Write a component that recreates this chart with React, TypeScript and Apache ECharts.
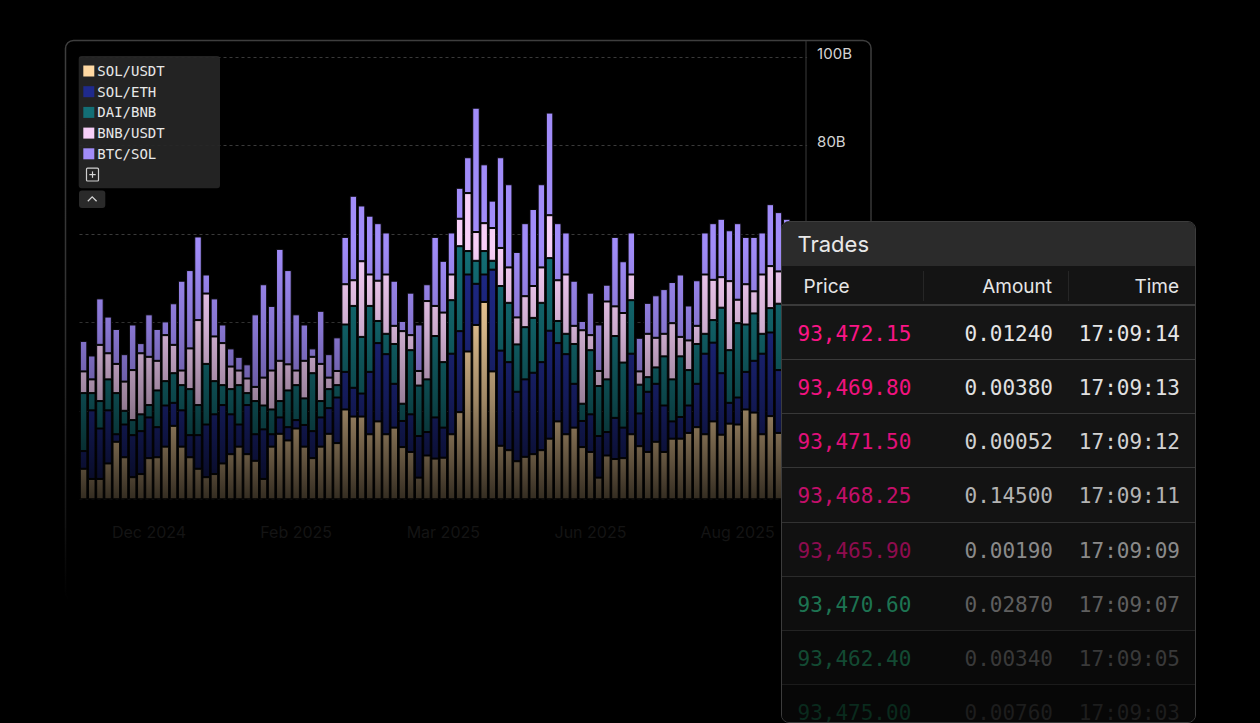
import React, { useEffect, useRef } from "react";
import * as echarts from "echarts";

// Stacked daily volume by pair (billions)
const seriesNames = ["SOL/USDT", "SOL/ETH", "DAI/BNB", "BNB/USDT", "BTC/SOL"];
const seriesColors = ["#ffd9a3", "#1f2a8c", "#136f76", "#f7cff8", "#a18cf9"];

const solUsdt = [
  6.9, 4.6, 4.6, 8.1, 13.0, 9.5, 5.0, 5.7, 9.3, 9.5,
  11.9, 16.6, 11.9, 9.5, 6.9, 5.0, 5.7, 8.1, 10.2, 11.9,
  10.2, 8.7, 4.6, 11.9, 14.8, 13.3, 16.0, 11.9, 9.3, 11.9,
  14.8, 12.7, 20.3, 18.7, 18.7, 14.7, 17.6, 14.7, 16.2, 11.8,
  10.7, 4.9, 9.9, 9.2, 9.4, 14.7, 19.7, 33.4, 39.4, 44.6,
  28.9, 12.1, 11.1, 8.6, 9.6, 10.2, 11.1, 13.7, 17.6, 14.7,
  16.2, 11.8, 10.7, 4.9, 9.9, 9.1, 9.3, 14.7, 12.0, 10.7,
  13.0, 10.7, 13.7, 13.7, 15.0, 16.3, 14.7, 17.6, 14.6, 17.1,
  16.9, 20.3, 19.6, 14.7, 18.8, 15.0, 14.6, 17.1, 16.9,
];
const solEth = [
  4.0, 15.5, 11.4, 12.0, 1.7, 7.4, 9.5, 9.7, 9.2, 6.8,
  9.3, 5.2, 8.2, 5.0, 7.6, 11.9, 13.5, 13.2, 9.0, 5.0,
  11.1, 6.0, 11.2, 2.8, 3.7, 3.0, 1.9, 4.9, 6.1, 6.6,
  5.8, 10.3, 8.5, 6.5, 5.2, 14.1, 17.7, 18.1, 9.9, 5.9,
  8.5, 9.4, 5.3, 9.3, 6.8, 18.2, 18.3, 17.4, 9.3, 6.2,
  23.0, 21.5, 19.9, 15.7, 17.5, 18.4, 19.9, 24.4, 17.7, 18.1,
  9.9, 5.9, 8.5, 9.4, 5.3, 9.3, 6.9, 18.2, 7.4, 13.6,
  13.1, 10.5, 3.9, 4.9, 6.2, 9.8, 18.2, 17.8, 13.9, 4.7,
  6.1, 8.5, 11.7, 18.2, 18.9, 14.2, 13.9, 4.7, 6.1,
];
const daiBnb = [
  13.1, 3.9, 6.2, 7.0, 9.3, 3.1, 3.4, 3.8, 2.8, 8.3,
  5.5, 6.7, 5.7, 10.4, 6.8, 13.7, 7.5, 4.5, 5.7, 8.9,
  2.7, 7.5, 5.4, 5.6, 3.7, 8.3, 7.9, 6.0, 13.1, 3.7,
  4.3, 2.8, 10.7, 18.5, 12.8, 14.9, 5.0, 4.6, 9.0, 3.9,
  14.5, 11.4, 11.9, 18.4, 14.8, 12.1, 19.2, 5.3, 5.2, 5.3,
  2.0, 14.6, 13.4, 10.7, 11.8, 12.4, 13.4, 16.4, 5.0, 4.6,
  9.0, 3.9, 14.5, 11.3, 11.9, 18.5, 14.7, 12.1, 6.5, 3.3,
  3.7, 11.1, 9.5, 13.7, 8.0, 9.0, 4.5, 5.1, 14.8, 11.9,
  16.8, 10.7, 10.7, 4.5, 5.5, 15.0, 14.8, 11.9, 16.8,
];
const bnbUsdt = [
  4.9, 3.1, 12.7, 5.9, 6.6, 6.6, 11.3, 13.8, 10.9, 6.7,
  10.4, 6.4, 3.3, 9.2, 19.2, 15.9, 10.1, 9.5, 5.1, 3.3,
  3.3, 3.2, 6.3, 8.8, 9.1, 5.9, 3.3, 8.5, 3.7, 8.4,
  2.6, 3.2, 9.1, 5.8, 17.1, 7.1, 9.1, 13.4, 4.1, 16.4,
  3.4, 3.3, 17.7, 6.8, 11.2, 5.8, 6.2, 13.1, 6.5, 6.3,
  7.4, 8.6, 8.0, 6.1, 7.0, 7.2, 8.0, 9.7, 9.2, 13.4,
  4.1, 16.6, 3.4, 3.4, 17.6, 6.7, 11.2, 5.8, 3.0, 9.8,
  6.7, 5.1, 12.7, 4.4, 6.7, 4.1, 13.4, 9.1, 6.9, 15.6,
  5.3, 9.1, 5.0, 13.4, 9.5, 7.3, 6.9, 15.6, 5.3,
];
const btcSol = [
  6.9, 5.4, 10.5, 8.3, 7.9, 6.2, 10.3, 2.3, 9.6, 7.2,
  3.1, 9.4, 20.3, 17.7, 18.9, 4.3, 8.6, 4.2, 4.1, 3.1,
  3.2, 16.4, 21.1, 14.6, 25.3, 21.3, 12.7, 8.2, 1.9, 12.0,
  5.3, 7.6, 10.7, 19.1, 12.6, 13.3, 13.0, 9.5, 10.2, 2.3,
  9.6, 10.5, 3.8, 15.6, 11.7, 9.5, 7.0, 8.1, 28.1, 13.3,
  6.2, 20.5, 18.8, 14.8, 16.5, 17.4, 18.8, 23.2, 12.9, 9.5,
  10.2, 2.1, 9.6, 10.5, 3.8, 15.7, 11.7, 9.5, 7.6, 7.0,
  9.6, 10.1, 9.3, 14.1, 7.9, 10.3, 9.5, 12.8, 13.2, 11.5,
  17.3, 10.7, 12.3, 9.5, 14.0, 13.4, 13.2, 11.5, 17.3,
];
const seriesValues = [solUsdt, solEth, daiBnb, bnbUsdt, btcSol];

// Month ticks on the category axis
const xTickIndex = [8, 26, 44, 62, 80];
const xTickLabels = ["Dec 2024", "Feb 2025", "Mar 2025", "Jun 2025", "Aug 2025"];
const categories = solUsdt.map((_, i) => {
  const k = xTickIndex.indexOf(i);
  return k >= 0 ? xTickLabels[k] : `d${i + 1}`;
});

const yMax = 100;
const yStep = 20;
// Only the upper ticks stay clear of the trades panel
const yLabelFloor = 80;

// Recent trades feed
const tradePrices = ["93,472.15", "93,469.80", "93,471.50", "93,468.25", "93,465.90", "93,470.60", "93,462.40", "93,475.00"];
const tradeAmounts = ["0.01240", "0.00380", "0.00052", "0.14500", "0.00190", "0.02870", "0.00340", "0.00760"];
const tradeTimes = ["17:09:14", "17:09:13", "17:09:12", "17:09:11", "17:09:09", "17:09:07", "17:09:05", "17:09:03"];

// Row styling fades out toward the bottom of the feed
const priceColors = ["#fb1486", "#f2127f", "#e2107a", "#c40f6a", "#8e0c4f", "#1d7452", "#134a33", "#0a2a1d"];
const textColors = ["#e6e6e6", "#e0e0e0", "#d2d2d2", "#b3b3b3", "#8a8a8a", "#5f5f5f", "#393939", "#1d1d1d"];
const rowBgs = ["#151515", "#151515", "#141414", "#131313", "#111111", "#0e0e0e", "#0a0a0a", "#070707"];
const rowLines = ["#3a3a3a", "#383838", "#363636", "#323232", "#2b2b2b", "#232323", "#1b1b1b", "#141414"];

const MONO = "'DejaVu Sans Mono', monospace";
const SANS = "Inter, 'Noto Sans', sans-serif";

function Chart() {
  const ref = useRef<HTMLDivElement>(null);

  useEffect(() => {
    if (!ref.current) return;
    const chart = echarts.init(ref.current, null, { renderer: "svg" });

    // Darkening toward the bottom of the plot
    const fade = new echarts.graphic.LinearGradient(0, 0, 0, 1, [
      { offset: 0, color: "rgba(0,0,0,0)" },
      { offset: 0.143, color: "rgba(0,0,0,0)" },
      { offset: 0.413, color: "rgba(0,0,0,0.17)" },
      { offset: 0.635, color: "rgba(0,0,0,0.38)" },
      { offset: 0.825, color: "rgba(0,0,0,0.62)" },
      { offset: 0.952, color: "rgba(0,0,0,0.8)" },
      { offset: 1, color: "rgba(0,0,0,0.85)" },
    ]);
    const borderFade = new echarts.graphic.LinearGradient(0, 0, 0, 1, [
      { offset: 0, color: "#3e3e3e" },
      { offset: 0.5, color: "#313131" },
      { offset: 0.85, color: "#151515" },
      { offset: 1, color: "rgba(20,20,20,0)" },
    ]);

    chart.setOption({
      animation: false,
      backgroundColor: "#000",
      grid: { left: 79.5, top: 56.8, width: 727.6, height: 442.5 },
      xAxis: {
        type: "category",
        data: categories,
        axisLine: { show: false },
        axisTick: { show: false },
        splitLine: { show: false },
        axisLabel: {
          interval: (i: number) => xTickIndex.includes(i),
          color: "#141414",
          fontFamily: SANS,
          fontSize: 16,
          margin: 25,
        },
      },
      yAxis: {
        type: "value",
        position: "right",
        min: 0,
        max: yMax,
        interval: yStep,
        axisLine: { show: false },
        axisTick: { show: false },
        splitLine: { lineStyle: { color: "#3a3a3a", type: [3, 3], width: 1 } },
        axisLabel: {
          formatter: (v: number) => (v >= yLabelFloor ? `${v}B` : ""),
          color: "#d4d4d4",
          fontFamily: SANS,
          fontSize: 15,
          margin: 10,
          align: "left",
          verticalAlign: "bottom",
          lineHeight: 7,
        },
      },
      legend: {
        orient: "vertical",
        left: 83.3,
        top: 64,
        padding: 0,
        itemWidth: 11,
        itemHeight: 11,
        itemGap: 6.7,
        icon: "rect",
        selectedMode: false,
        itemStyle: { borderWidth: 0 },
        textStyle: {
          color: "#e8e8e8",
          fontFamily: MONO,
          fontSize: 14,
          lineHeight: 14,
          padding: [0, 0, 0, -2],
        },
        data: seriesNames,
      },
      series: seriesNames.map((name, k) => ({
        type: "bar",
        name,
        stack: "volume",
        data: seriesValues[k],
        barWidth: "92%",
        itemStyle: { color: seriesColors[k], borderColor: "#060606", borderWidth: 1 },
      })),
      graphic: [
        {
          type: "rect",
          z: 1,
          silent: true,
          shape: { x: 65.5, y: 40.5, width: 805.5, height: 560, r: 8 },
          style: { fill: "transparent", stroke: borderFade, lineWidth: 1.5 },
        },
        {
          type: "line",
          z: 1,
          silent: true,
          shape: { x1: 806, y1: 41, x2: 806, y2: 500 },
          style: { stroke: "#313131", lineWidth: 1.2 },
        },
        {
          type: "rect",
          z: 3,
          silent: true,
          shape: { x: 67, y: 200, width: 802, height: 315 },
          style: { fill: fade },
        },
        {
          type: "rect",
          z: 3,
          silent: true,
          shape: { x: 78.7, y: 56, width: 141.3, height: 132.3, r: 3 },
          style: { fill: "rgba(38,38,38,0.93)" },
        },
        {
          type: "rect",
          z: 5,
          silent: true,
          shape: { x: 86.5, y: 168.2, width: 12, height: 12.8, r: 1 },
          style: { fill: "transparent", stroke: "#cfcfcf", lineWidth: 1.2 },
        },
        {
          type: "line",
          z: 5,
          silent: true,
          shape: { x1: 89.3, y1: 174.6, x2: 95.7, y2: 174.6 },
          style: { stroke: "#d6d6d6", lineWidth: 1.2 },
        },
        {
          type: "line",
          z: 5,
          silent: true,
          shape: { x1: 92.5, y1: 171.4, x2: 92.5, y2: 177.8 },
          style: { stroke: "#d6d6d6", lineWidth: 1.2 },
        },
        {
          type: "rect",
          z: 3,
          silent: true,
          shape: { x: 79, y: 190.5, width: 26.3, height: 17.5, r: 3 },
          style: { fill: "#2a2a2a" },
        },
        {
          type: "polyline",
          z: 5,
          silent: true,
          shape: { points: [[87.8, 201.2], [92.2, 196.8], [96.6, 201.2]] },
          style: { fill: "none", stroke: "#d4d4d4", lineWidth: 1.3 },
        },
      ],
    });

    return () => chart.dispose();
  }, []);

  return <div ref={ref} style={{ position: "absolute", left: 0, top: 0, width: 1260, height: 723 }} />;
}

function TradesPanel() {
  const rowTop = 83.5;
  const rowH = 54.25;
  return (
    <div
      style={{
        position: "absolute",
        left: 781,
        top: 221,
        width: 415,
        height: 502,
        boxSizing: "border-box",
        border: "1.5px solid #3c3c3c",
        borderRadius: 8,
        background: "#0c0c0c",
        overflow: "hidden",
      }}
    >
      <div
        style={{
          position: "absolute",
          left: 0,
          top: 0,
          right: 0,
          height: 44,
          background: "#2b2b2b",
          color: "#e8e8e8",
          fontFamily: SANS,
          fontSize: 22,
          lineHeight: "44px",
          paddingLeft: 15.5,
        }}
      >
        Trades
      </div>
      <div
        style={{
          position: "absolute",
          left: 0,
          top: 44,
          right: 0,
          height: 38,
          background: "#141414",
          fontFamily: SANS,
          fontSize: 19,
          color: "#e6e6e6",
          lineHeight: "38px",
        }}
      >
        <span style={{ position: "absolute", top: 2, left: 21.5 }}>Price</span>
        <span style={{ position: "absolute", top: 2, right: 143 }}>Amount</span>
        <span style={{ position: "absolute", top: 2, right: 16 }}>Time</span>
        <div style={{ position: "absolute", left: 140.8, top: 5, width: 1.2, height: 30, background: "#262626" }} />
        <div style={{ position: "absolute", left: 286.2, top: 5, width: 1.2, height: 30, background: "#262626" }} />
      </div>
      <div style={{ position: "absolute", left: 0, right: 0, top: 82, height: 1.5, background: "#3a3a3a" }} />
      {tradePrices.map((price, i) => (
        <div
          key={i}
          style={{
            position: "absolute",
            left: 0,
            right: 0,
            top: rowTop + i * rowH,
            height: rowH,
            boxSizing: "border-box",
            background: rowBgs[i],
            borderBottom: `1.5px solid ${rowLines[i]}`,
            fontFamily: MONO,
            fontSize: 21,
            lineHeight: `${rowH - 1.5}px`,
          }}
        >
          <span style={{ position: "absolute", top: 2, left: 15.5, color: priceColors[i] }}>{price}</span>
          <span style={{ position: "absolute", top: 2, right: 142, color: textColors[i] }}>{tradeAmounts[i]}</span>
          <span style={{ position: "absolute", top: 2, right: 15, color: textColors[i] }}>{tradeTimes[i]}</span>
        </div>
      ))}
    </div>
  );
}

export default function App() {
  return (
    <div style={{ position: "relative", width: 1260, height: 723, background: "#000", overflow: "hidden" }}>
      <style>{"html,body{margin:0;padding:0;background:#000;}"}</style>
      <Chart />
      <TradesPanel />
    </div>
  );
}
